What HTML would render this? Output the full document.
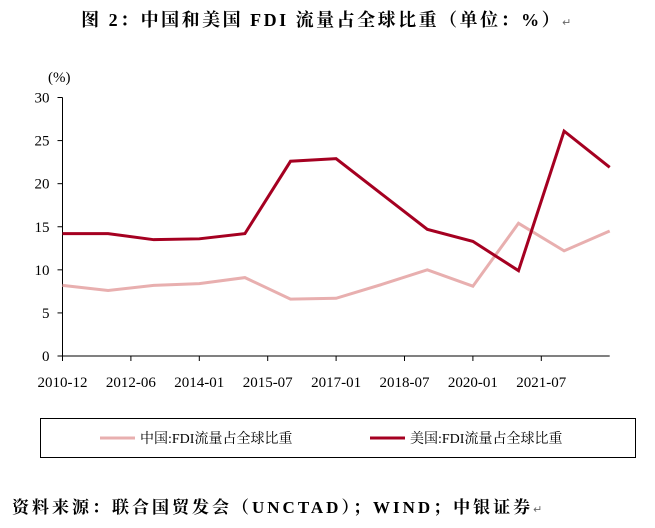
<!DOCTYPE html>
<html><head><meta charset="utf-8"><style>
body{margin:0;background:#fff;width:655px;height:528px;overflow:hidden;font-family:"Liberation Serif","Noto Serif CJK SC",serif}
#title{position:absolute;left:0;width:655px;top:6px;text-align:center;font-size:18px;font-weight:bold;letter-spacing:2.5px}
#src{position:absolute;left:12px;top:493px;font-size:17px;font-weight:bold;letter-spacing:3px}
</style></head><body>
<div id="title">图 2：中国和美国 FDI 流量占全球比重（单位：%）<span style="font-size:11px;font-weight:normal;color:#666">↵</span></div>
<svg id="chart" width="655" height="528" style="position:absolute;left:0;top:0"></svg>
<div id="src">资料来源：联合国贸发会（UNCTAD）；WIND；中银证券<span style="font-size:11px;font-weight:normal;color:#666">↵</span></div>
<script>
const categories=["2010-12","2011-12","2012-12","2013-12","2014-12","2015-12","2016-12","2017-12","2018-12","2019-12","2020-12","2021-12","2022-12"];
const tickLabels=["2010-12","2012-06","2014-01","2015-07","2017-01","2018-07","2020-01","2021-07"];
const yTicks=[0,5,10,15,20,25,30];
const chinaValues=[8.2,7.6,8.2,8.4,9.1,6.6,6.7,8.3,10.0,8.1,15.4,12.2,14.5];
const usValues=[14.2,14.2,13.5,13.6,14.2,22.6,22.9,18.8,14.7,13.3,9.9,26.1,21.9];
const NS="http://www.w3.org/2000/svg";
const svg=document.getElementById('chart');
const x0=62.5,step=45.6,yb=356,yt=97.5;
const X=i=>x0+i*step;
const Y=v=>yb-(v/30)*(yb-yt);
function mk(t,a){const e=document.createElementNS(NS,t);for(const k in a)e.setAttribute(k,a[k]);svg.appendChild(e);return e;}
let e=mk('line',{x1:x0,y1:yt,x2:x0,y2:yb,stroke:'#000','stroke-width':1});

e=mk('line',{x1:x0,y1:yb,x2:X(12),y2:yb,stroke:'#000','stroke-width':1});

yTicks.forEach(v=>{
 const t=mk('line',{x1:x0-5,y1:Y(v),x2:x0,y2:Y(v),stroke:'#000'});
 
 const l=mk('text',{x:x0-13,y:Y(v)+5,'text-anchor':'end','font-size':15});l.textContent=v;
 
});
e=mk('text',{x:48,y:82,'font-size':15});e.textContent='(%)';

tickLabels.forEach((s,k)=>{
 const xx=X(k*1.5);
 const t=mk('line',{x1:xx,y1:yb,x2:xx,y2:yb+5,stroke:'#000'});
 
 const l=mk('text',{x:xx,y:yb+31,'text-anchor':'middle','font-size':15});l.textContent=s;
 
});
function line(vals,color,name){
 const p=mk('polyline',{points:vals.map((v,i)=>X(i)+','+Y(v)).join(' '),fill:'none',stroke:color,'stroke-width':3,'stroke-linejoin':'miter'});
 
}
line(chinaValues,'#E8AFAF','china-line');
line(usValues,'#A50021','us-line');
e=mk('rect',{x:40.5,y:418.5,width:595,height:39,fill:'none',stroke:'#000'});

e=mk('line',{x1:100,y1:438,x2:135,y2:438,stroke:'#E8AFAF','stroke-width':3});

e=mk('text',{x:140,y:443,'font-size':14});e.textContent='中国:FDI流量占全球比重';

e=mk('line',{x1:370,y1:438,x2:405,y2:438,stroke:'#A50021','stroke-width':3});

e=mk('text',{x:410,y:443,'font-size':14});e.textContent='美国:FDI流量占全球比重';

</script>
</body></html>
